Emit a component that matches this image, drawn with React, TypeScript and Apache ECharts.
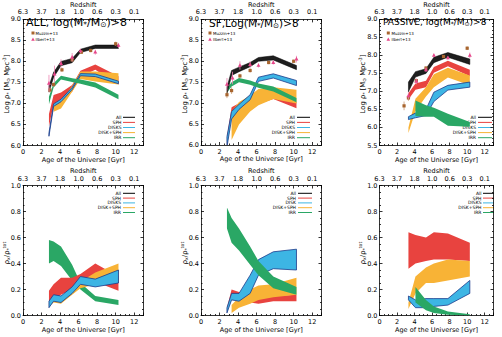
import { useEffect, useRef } from 'react';
import * as echarts from 'echarts';

const FONT = 'DejaVu Sans';

// Top axis: redshift labels placed on the age ticks
const AGE_TICKS = [0, 2, 4, 6, 8, 10, 12];
const REDSHIFT_LABELS = ['6.3', '3.7', '1.8', '1.0', '0.6', '0.3', '0.1'];

// Cosmic ages (Gyr) of the redshift bins
const AGES = [2.8, 3.3, 4.1, 5.3, 6.2, 7.8, 10.3];
const AGES_LATE = [3.3, 4.1, 5.3, 6.2, 7.8, 10.3];
const AGES_IRR_PASSIVE = [4.1, 5.3, 6.2, 7.8, 10.3];

// ---- log stellar mass density, ALL galaxies ----
const allAllLo = [7.27, 7.62, 7.90, 7.97, 8.21, 8.31, 8.31];
const allAllHi = [7.42, 7.74, 8.00, 8.07, 8.29, 8.39, 8.39];
const allSphLo = [6.45, 6.98, 7.08, 7.28, 7.64, 7.80, 7.45];
const allSphHi = [6.75, 7.20, 7.26, 7.44, 7.78, 7.93, 7.65];
const allDiskLo = [6.22, 6.93, 7.04, 7.33, 7.66, 7.64, 7.47];
const allDiskHi = [6.30, 6.99, 7.10, 7.38, 7.71, 7.70, 7.53];
const allDsLo = [6.80, 6.88, 7.28, 7.58, 7.52, 7.45];
const allDsHi = [6.98, 7.05, 7.42, 7.76, 7.76, 7.72];
const allIrrLo = [6.98, 7.38, 7.57, 7.51, 7.47, 7.38, 7.10];
const allIrrHi = [7.16, 7.48, 7.66, 7.60, 7.57, 7.50, 7.21];

// ---- star-forming ----
const sfAllLo = [7.22, 7.66, 7.75, 7.87, 8.00, 8.03, 7.80];
const sfAllHi = [7.38, 7.78, 7.86, 7.97, 8.09, 8.13, 7.90];
const sfSphLo = [5.95, 6.80, 6.90, 6.92, 6.98, 7.10, 6.88];
const sfSphHi = [6.20, 6.90, 7.00, 7.05, 7.10, 7.20, 7.03];
const sfDsLo = [6.12, 6.49, 6.80, 6.95, 7.10, 6.99];
const sfDsHi = [6.80, 7.03, 7.18, 7.34, 7.38, 7.32];
const sfDiskLo = [5.95, 6.62, 6.85, 7.08, 7.52, 7.60, 7.42];
const sfDiskHi = [6.20, 6.80, 6.97, 7.20, 7.62, 7.70, 7.54];
const sfIrrLo = [7.25, 7.40, 7.50, 7.44, 7.37, 7.28, 7.02];
const sfIrrHi = [7.35, 7.50, 7.60, 7.54, 7.47, 7.40, 7.12];

// ---- passive ----
const psAllLo = [6.99, 7.40, 7.50, 7.80, 7.95, 7.75];
const psAllHi = [7.26, 7.55, 7.63, 7.95, 8.08, 7.90];
const psSphLo = [6.78, 7.05, 7.12, 7.52, 7.70, 7.42];
const psSphHi = [6.95, 7.22, 7.30, 7.68, 7.85, 7.60];
const psDsLo = [5.85, 6.45, 6.86, 7.12, 7.39, 7.17];
const psDsHi = [6.00, 6.80, 7.12, 7.48, 7.66, 7.44];
const psDiskLo = [6.22, 6.27, 6.33, 6.72, 7.04, 7.12];
const psDiskHi = [6.30, 6.40, 6.50, 6.98, 7.17, 7.26];
const psIrrLo = [6.32, 6.30, 6.30, 6.05, 6.02];
const psIrrHi = [6.75, 6.62, 6.55, 6.38, 6.15];

// ---- literature points: [age, log rho, error] ----
const muzzinAllX = [2.9, 3.3, 4.2, 5.3, 6.3, 7.3, 10.0];
const muzzinAllY = [7.32, 7.45, 7.80, 8.04, 8.22, 8.26, 8.42];
const muzzinAllE = [0.06, 0.05, 0.05, 0.05, 0.04, 0.04, 0.05];
const ilbertAllX = [2.8, 3.4, 4.1, 5.3, 6.2, 7.8, 10.3];
const ilbertAllY = [7.48, 7.70, 7.95, 8.10, 8.25, 8.22, 8.38];
const ilbertAllE = [0.20, 0.20, 0.10, 0.10, 0.05, 0.06, 0.06];

const muzzinSfX = [2.8, 3.3, 4.2, 5.3, 7.3, 10.0];
const muzzinSfY = [7.20, 7.30, 7.65, 7.78, 7.97, 8.00];
const muzzinSfE = [0.08, 0.08, 0.05, 0.05, 0.04, 0.04];
const ilbertSfX = [2.8, 3.4, 4.2, 5.3, 6.2, 7.8, 10.3];
const ilbertSfY = [7.45, 7.60, 7.90, 7.92, 7.90, 7.97, 8.05];
const ilbertSfE = [0.15, 0.15, 0.10, 0.08, 0.05, 0.05, 0.08];

const muzzinPsX = [2.8, 3.3, 4.2, 5.3, 7.3, 10.0];
const muzzinPsY = [6.60, 6.82, 7.30, 7.65, 7.97, 8.20];
const muzzinPsE = [0.12, 0.08, 0.05, 0.05, 0.04, 0.05];
const ilbertPsX = [3.3, 4.2, 5.3, 6.2, 7.8, 10.3];
const ilbertPsY = [6.88, 7.28, 7.60, 8.00, 7.93, 8.00];
const ilbertPsE = [0.10, 0.08, 0.06, 0.05, 0.05, 0.08];

// ---- fractions of total stellar mass density ----
const fAllIrrLo = [0.40, 0.42, 0.38, 0.27, 0.20, 0.11, 0.08];
const fAllIrrHi = [0.58, 0.57, 0.53, 0.39, 0.25, 0.15, 0.12];
const fAllSphLo = [0.10, 0.12, 0.16, 0.20, 0.24, 0.26, 0.19];
const fAllSphHi = [0.19, 0.24, 0.29, 0.29, 0.32, 0.40, 0.30];
const fAllDsLo = [0.07, 0.10, 0.09, 0.16, 0.21, 0.24, 0.26];
const fAllDsHi = [0.10, 0.14, 0.12, 0.22, 0.26, 0.33, 0.40];
const fAllDiskLo = [0.06, 0.11, 0.10, 0.17, 0.24, 0.22, 0.25];
const fAllDiskHi = [0.11, 0.16, 0.15, 0.22, 0.30, 0.28, 0.35];

const fSfIrrLo = [0.67, 0.56, 0.50, 0.39, 0.31, 0.21, 0.16];
const fSfIrrHi = [0.83, 0.75, 0.67, 0.53, 0.42, 0.30, 0.22];
const fSfSphLo = [0.03, 0.13, 0.12, 0.10, 0.09, 0.11, 0.11];
const fSfSphHi = [0.06, 0.20, 0.18, 0.14, 0.13, 0.15, 0.16];
const fSfDsLo = [0.02, 0.06, 0.09, 0.12, 0.14, 0.16];
const fSfDsHi = [0.08, 0.14, 0.20, 0.23, 0.24, 0.29];
const fSfDiskLo = [0.02, 0.12, 0.11, 0.17, 0.31, 0.36, 0.35];
const fSfDiskHi = [0.06, 0.17, 0.17, 0.31, 0.43, 0.49, 0.51];

const fPsSphLo = [0.36, 0.40, 0.42, 0.43, 0.43, 0.42];
const fPsSphHi = [0.64, 0.62, 0.60, 0.64, 0.63, 0.56];
const fPsDsLo = [0.05, 0.17, 0.25, 0.25, 0.27, 0.30];
const fPsDsHi = [0.10, 0.30, 0.37, 0.40, 0.43, 0.42];
const fPsDiskLo = [0.12, 0.06, 0.06, 0.07, 0.08, 0.17];
const fPsDiskHi = [0.15, 0.12, 0.13, 0.13, 0.13, 0.27];
const fPsIrrLo = [0.10, 0.04, 0.02, 0.005, 0.0];
const fPsIrrHi = [0.22, 0.12, 0.07, 0.03, 0.01];

const STYLE: Record<string, { fill: string; stroke?: string; lw: number }> = {
  all: { fill: '#1e1e1e', stroke: '#000', lw: 0.5 },
  sph: { fill: '#e8433f', lw: 0 },
  disk: { fill: '#3db5e4', stroke: '#1d3b8c', lw: 0.8 },
  ds: { fill: '#f8b336', lw: 0 },
  irr: { fill: '#2aa765', lw: 0 },
};

const LEGEND_COLORS = ['#000', '#e8433f', '#3db5e4', '#f8b336', '#2aa765'];

function bandSeries(panel: number, xs: number[], lo: number[], hi: number[], kind: string) {
  const st = STYLE[kind];
  return {
    type: 'custom',
    xAxisIndex: panel * 2,
    yAxisIndex: panel * 2,
    clip: true,
    silent: true,
    z: 2,
    data: xs.map((x, i) => [x, lo[i], hi[i]]),
    encode: { x: 0, y: [1, 2] },
    renderItem: (params: any, api: any) => {
      if (params.dataIndex !== 0) return { type: 'group', children: [] };
      const upper = xs.map((x, i) => api.coord([x, hi[i]]));
      const lower = xs.map((x, i) => api.coord([x, lo[i]])).reverse();
      return {
        type: 'polygon',
        shape: { points: upper.concat(lower) },
        style: { fill: st.fill, stroke: st.stroke || null, lineWidth: st.lw },
      };
    },
  };
}

function pointSeries(panel: number, xs: number[], ys: number[], es: number[], kind: 'muzzin' | 'ilbert') {
  const barColor = kind === 'muzzin' ? '#c99a72' : '#ee86b4';
  const mark = kind === 'muzzin' ? '#a8652f' : '#e6478a';
  return {
    type: 'custom',
    xAxisIndex: panel * 2,
    yAxisIndex: panel * 2,
    silent: true,
    z: 5,
    data: xs.map((x, i) => [x, ys[i], es[i]]),
    encode: { x: 0, y: 1 },
    renderItem: (_p: any, api: any) => {
      const x = api.value(0);
      const y = api.value(1);
      const e = api.value(2);
      const c = api.coord([x, y]);
      const t = api.coord([x, y + e]);
      const b = api.coord([x, y - e]);
      const marker =
        kind === 'muzzin'
          ? { type: 'rect', shape: { x: c[0] - 1.6, y: c[1] - 1.6, width: 3.2, height: 3.2 }, style: { fill: mark } }
          : {
              type: 'polygon',
              shape: { points: [[c[0], c[1] - 2.3], [c[0] - 2, c[1] + 1.4], [c[0] + 2, c[1] + 1.4]] },
              style: { fill: mark },
            };
      return {
        type: 'group',
        children: [
          { type: 'line', shape: { x1: c[0], y1: t[1], x2: c[0], y2: b[1] }, style: { stroke: barColor, lineWidth: 0.8 } },
          marker,
        ],
      };
    },
  };
}

const GRIDS = [
  { left: 23, top: 15, width: 120.5, height: 130.5 },
  { left: 201, top: 15, width: 120.5, height: 130 },
  { left: 379.5, top: 15, width: 114, height: 130.5 },
  { left: 23, top: 185.5, width: 120.5, height: 130 },
  { left: 201, top: 185.5, width: 120.5, height: 130 },
  { left: 379.5, top: 185.5, width: 114, height: 130 },
];

const Y_RANGES = [
  [6.0, 9.0, 0.5],
  [6.0, 9.0, 0.5],
  [5.5, 9.0, 0.5],
  [0, 1, 0.2],
  [0, 1, 0.2],
  [0, 1, 0.2],
];

const lineStyle = { color: '#000', width: 0.8 };

function buildAxes() {
  const xAxis: any[] = [];
  const yAxis: any[] = [];
  GRIDS.forEach((_, g) => {
    const common = {
      gridIndex: g,
      type: 'value',
      min: 0,
      max: 13,
      interval: 2,
      splitLine: { show: false },
      axisLine: { show: true, onZero: false, lineStyle },
      axisTick: { show: true, inside: true, length: 3, lineStyle },
      minorTick: { show: true, splitNumber: 4, length: 1.5, lineStyle },
      nameLocation: 'middle',
      nameTextStyle: { fontSize: 6.5, fontFamily: FONT, color: '#000' },
    };
    xAxis.push({
      ...common,
      position: 'bottom',
      name: 'Age of the Universe [Gyr]',
      nameGap: 10,
      axisLabel: {
        fontSize: 6.5,
        fontFamily: FONT,
        color: '#000',
        margin: 3,
        formatter: (v: number) => (AGE_TICKS.indexOf(v) >= 0 ? String(v) : ''),
      },
    });
    xAxis.push({
      ...common,
      position: 'top',
      name: 'Redshift',
      nameGap: 10,
      axisLabel: {
        fontSize: 6.5,
        fontFamily: FONT,
        color: '#000',
        margin: 3.5,
        formatter: (v: number) => {
          const i = AGE_TICKS.indexOf(v);
          return i >= 0 ? REDSHIFT_LABELS[i] : '';
        },
      },
    });
    const [ymin, ymax, yint] = Y_RANGES[g];
    const top = g < 3;
    const yCommon = {
      gridIndex: g,
      type: 'value',
      min: ymin,
      max: ymax,
      interval: yint,
      splitLine: { show: false },
      axisLine: { show: true, onZero: false, lineStyle },
      axisTick: { show: true, inside: true, length: 3, lineStyle },
      minorTick: { show: true, splitNumber: top ? 5 : 4, length: 1.5, lineStyle },
    };
    yAxis.push({
      ...yCommon,
      position: 'left',
      axisLabel: {
        fontSize: 6.5,
        fontFamily: FONT,
        color: '#000',
        margin: 2,
        formatter: (v: number) => v.toFixed(1),
      },
    });
    yAxis.push({ ...yCommon, position: 'right', axisLabel: { show: false } });
  });
  return { xAxis, yAxis };
}

// Panel titles, laid out by the title component
const TITLES = [
  { left: 26, top: 17, size: 11, text: 'ALL, log(M{s|*}/M{s|⊙})>8' },
  { left: 209, top: 17.5, size: 10.5, text: 'SF,Log(M{s|*}/M{s|⊙})>8' },
  { left: 383, top: 17.5, size: 9, text: 'PASSIVE, log(M{s|*}/M{s|⊙})>8' },
];

// Text pieces: [text, 0 = normal, 1 = subscript, 2 = superscript]
type Piece = [string, number];

const Y_NAME_TOP: Piece[] = [['Log ρ', 0], ['*', 1], [' [M', 0], ['⊙', 1], [' Mpc', 0], ['-3', 2], [']', 0]];
const Y_NAME_BOTTOM: Piece[] = [['ρ', 0], ['x', 1], ['/ρ', 0], ['*', 1], ['tot', 2]];
const Y_NAME_POS = [
  { x: 7, y: 84, pieces: Y_NAME_TOP },
  { x: 184.5, y: 84, pieces: Y_NAME_TOP },
  { x: 363, y: 84, pieces: Y_NAME_TOP },
  { x: 7, y: 253, pieces: Y_NAME_BOTTOM },
  { x: 184.5, y: 253, pieces: Y_NAME_BOTTOM },
  { x: 363, y: 253, pieces: Y_NAME_BOTTOM },
];

const LEGEND_TOP = [
  { l1: 123, l2: 135, tx: 121.5, names: ['All', 'SPH', 'DISKS', 'DISK+SPH', 'IRR'] },
  { l1: 297, l2: 310, tx: 295, names: ['All', 'SPH', 'DISKS', 'DISK+SPH', 'IRR'] },
  { l1: 478, l2: 492, tx: 476, names: ['All', 'SPH', 'DISKS', 'DISK+SPH', 'IRR'] },
];
const LEGEND_BOTTOM = [
  { l1: 123, l2: 135, tx: 121, names: ['All', 'SPH', 'DISKS', 'DISK+SPH', 'IRR'] },
  { l1: 298, l2: 312, tx: 296, names: ['All', 'SPH', 'DISK', 'DISK+SPH', 'IRR'] },
  { l1: 483, l2: 494, tx: 481.5, names: ['All', 'SPH', 'DISKS', 'DISK+SPH', 'IRR'] },
];
const LEGEND_TOP_Y = [117.3, 122.4, 127.5, 132.6, 137.7];
const LEGEND_BOTTOM_Y = [193.3, 198.1, 202.9, 207.7, 212.5];

const REF_LEGEND = [
  { mx: 33, tx: 35.5 },
  { mx: 210, tx: 213 },
  { mx: 388.3, tx: 391.5 },
];
const REF_LEGEND_Y = [33, 39.5];

let measureCtx: CanvasRenderingContext2D | null = null;
function measure(text: string, size: number) {
  if (!measureCtx) measureCtx = document.createElement('canvas').getContext('2d');
  if (!measureCtx) return text.length * size * 0.6;
  measureCtx.font = `${size}px "${FONT}"`;
  return measureCtx.measureText(text).width;
}

// Lays out a line of mixed normal/sub/superscript text, centred on the group origin
function scriptLine(pieces: Piece[], size: number) {
  const small = size * 0.68;
  const widths = pieces.map(([t, k]) => measure(t, k ? small : size));
  const total = widths.reduce((a, b) => a + b, 0);
  let cx = -total / 2;
  return pieces.map(([t, k], i) => {
    const el = {
      type: 'text',
      x: cx,
      y: k === 1 ? size * 0.28 : k === 2 ? -size * 0.3 : 0,
      style: {
        text: t,
        font: `${k ? small : size}px "${FONT}"`,
        fill: '#000',
        verticalAlign: 'middle',
        textVerticalAlign: 'middle',
      },
    };
    cx += widths[i];
    return el;
  });
}

function buildGraphics() {
  const els: any[] = [];
  Y_NAME_POS.forEach((n) => {
    els.push({ type: 'group', x: n.x, y: n.y, rotation: Math.PI / 2, children: scriptLine(n.pieces, 6.8) });
  });
  const addLegend = (cfgs: any[], ys: number[]) => {
    cfgs.forEach((c) => {
      c.names.forEach((n: string, i: number) => {
        els.push({
          type: 'text',
          x: c.tx,
          y: ys[i],
          style: {
            text: n,
            font: `4.5px "${FONT}"`,
            fill: '#000',
            align: 'right',
            verticalAlign: 'middle',
            textAlign: 'right',
            textVerticalAlign: 'middle',
          },
        });
        els.push({
          type: 'line',
          shape: { x1: c.l1, y1: ys[i], x2: c.l2, y2: ys[i] },
          style: { stroke: LEGEND_COLORS[i], lineWidth: 1 },
        });
      });
    });
  };
  addLegend(LEGEND_TOP, LEGEND_TOP_Y);
  addLegend(LEGEND_BOTTOM, LEGEND_BOTTOM_Y);
  REF_LEGEND.forEach((r) => {
    const [y0, y1] = REF_LEGEND_Y;
    els.push({ type: 'rect', shape: { x: r.mx - 1.5, y: y0 - 1.5, width: 3, height: 3 }, style: { fill: '#a8652f' } });
    els.push({
      type: 'polygon',
      shape: { points: [[r.mx, y1 - 2], [r.mx - 1.8, y1 + 1.3], [r.mx + 1.8, y1 + 1.3]] },
      style: { fill: '#e6478a' },
    });
    els.push({
      type: 'text',
      x: r.tx,
      y: y0,
      style: { text: 'Muzzin+13', font: `4px "${FONT}"`, fill: '#000', verticalAlign: 'middle', textVerticalAlign: 'middle' },
    });
    els.push({
      type: 'text',
      x: r.tx,
      y: y1,
      style: { text: 'Ilbert+13', font: `4px "${FONT}"`, fill: '#000', verticalAlign: 'middle', textVerticalAlign: 'middle' },
    });
  });
  return els;
}

function buildSeries() {
  return [
    // ALL
    bandSeries(0, AGES, allSphLo, allSphHi, 'sph'),
    bandSeries(0, AGES_LATE, allDsLo, allDsHi, 'ds'),
    bandSeries(0, AGES, allDiskLo, allDiskHi, 'disk'),
    bandSeries(0, AGES, allIrrLo, allIrrHi, 'irr'),
    bandSeries(0, AGES, allAllLo, allAllHi, 'all'),
    pointSeries(0, muzzinAllX, muzzinAllY, muzzinAllE, 'muzzin'),
    pointSeries(0, ilbertAllX, ilbertAllY, ilbertAllE, 'ilbert'),
    // SF
    bandSeries(1, AGES, sfSphLo, sfSphHi, 'sph'),
    bandSeries(1, AGES_LATE, sfDsLo, sfDsHi, 'ds'),
    bandSeries(1, AGES, sfDiskLo, sfDiskHi, 'disk'),
    bandSeries(1, AGES, sfIrrLo, sfIrrHi, 'irr'),
    bandSeries(1, AGES, sfAllLo, sfAllHi, 'all'),
    pointSeries(1, muzzinSfX, muzzinSfY, muzzinSfE, 'muzzin'),
    pointSeries(1, ilbertSfX, ilbertSfY, ilbertSfE, 'ilbert'),
    // PASSIVE
    bandSeries(2, AGES_LATE, psSphLo, psSphHi, 'sph'),
    bandSeries(2, AGES_LATE, psDsLo, psDsHi, 'ds'),
    bandSeries(2, AGES_LATE, psDiskLo, psDiskHi, 'disk'),
    bandSeries(2, AGES_IRR_PASSIVE, psIrrLo, psIrrHi, 'irr'),
    bandSeries(2, AGES_LATE, psAllLo, psAllHi, 'all'),
    pointSeries(2, muzzinPsX, muzzinPsY, muzzinPsE, 'muzzin'),
    pointSeries(2, ilbertPsX, ilbertPsY, ilbertPsE, 'ilbert'),
    // fractions, ALL
    bandSeries(3, AGES, fAllIrrLo, fAllIrrHi, 'irr'),
    bandSeries(3, AGES, fAllSphLo, fAllSphHi, 'sph'),
    bandSeries(3, AGES, fAllDsLo, fAllDsHi, 'ds'),
    bandSeries(3, AGES, fAllDiskLo, fAllDiskHi, 'disk'),
    // fractions, SF
    bandSeries(4, AGES, fSfSphLo, fSfSphHi, 'sph'),
    bandSeries(4, AGES_LATE, fSfDsLo, fSfDsHi, 'ds'),
    bandSeries(4, AGES, fSfDiskLo, fSfDiskHi, 'disk'),
    bandSeries(4, AGES, fSfIrrLo, fSfIrrHi, 'irr'),
    // fractions, PASSIVE
    bandSeries(5, AGES_LATE, fPsSphLo, fPsSphHi, 'sph'),
    bandSeries(5, AGES_LATE, fPsDsLo, fPsDsHi, 'ds'),
    bandSeries(5, AGES_LATE, fPsDiskLo, fPsDiskHi, 'disk'),
    bandSeries(5, AGES_IRR_PASSIVE, fPsIrrLo, fPsIrrHi, 'irr'),
  ];
}

export default function App() {
  const ref = useRef<HTMLDivElement>(null);
  useEffect(() => {
    if (!ref.current) return;
    const chart = echarts.init(ref.current, null, { renderer: 'svg' });
    const { xAxis, yAxis } = buildAxes();
    chart.setOption({
      animation: false,
      backgroundColor: '#fff',
      title: TITLES.map((t) => ({
        text: t.text,
        left: t.left,
        top: t.top,
        padding: 0,
        textStyle: {
          fontSize: t.size,
          fontFamily: FONT,
          fontWeight: 'normal',
          color: '#000',
          rich: {
            s: { fontSize: t.size * 0.68, fontFamily: FONT, verticalAlign: 'bottom', color: '#000' },
          },
        },
      })),
      grid: GRIDS,
      xAxis,
      yAxis,
      series: buildSeries(),
      graphic: { elements: buildGraphics() },
    } as any);
    return () => chart.dispose();
  }, []);
  return (
    <div
      ref={ref}
      style={{ position: 'fixed', left: 0, top: 0, width: 502, height: 337, background: '#fff' }}
    />
  );
}
